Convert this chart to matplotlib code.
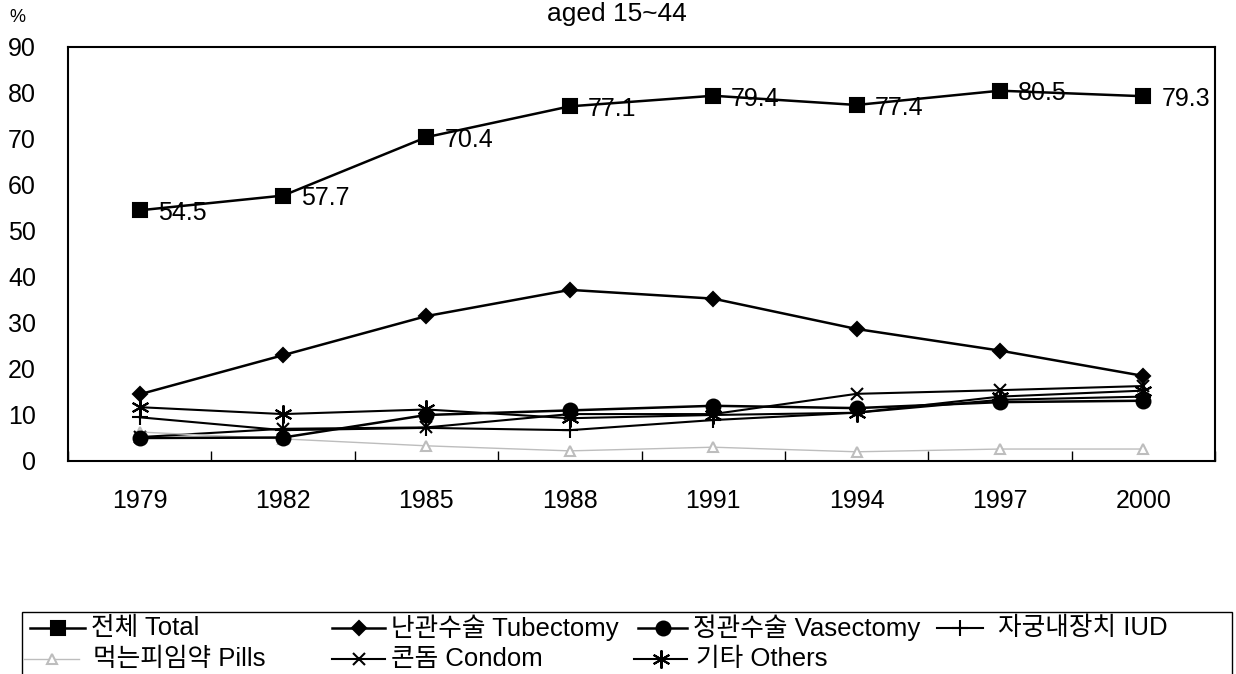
"""Contraceptive use among married women aged 15~44, line chart with bilingual legend."""
import matplotlib
matplotlib.use('Agg')
import matplotlib.pyplot as plt
import numpy as np
from matplotlib.lines import Line2D
from matplotlib.patches import Rectangle

plt.rcParams['font.family'] = ['Liberation Sans', 'Noto Sans CJK KR', 'DejaVu Sans']

W, H = 1236, 674

years = ['1979', '1982', '1985', '1988', '1991', '1994', '1997', '2000']
total = [54.5, 57.7, 70.4, 77.1, 79.4, 77.4, 80.5, 79.3]
tubectomy = [14.5, 23.0, 31.5, 37.2, 35.3, 28.7, 24.0, 18.5]
vasectomy = [5.0, 5.1, 10.0, 11.0, 12.0, 11.5, 12.8, 13.1]
iud = [9.5, 6.7, 7.2, 6.7, 8.9, 10.5, 13.3, 14.0]
pills = [6.3, 4.8, 3.3, 2.2, 3.0, 2.0, 2.6, 2.6]
condom = [5.2, 7.0, 7.3, 10.2, 10.2, 14.6, 15.4, 16.3]
others = [11.7, 10.2, 11.2, 9.3, 10.0, 10.5, 14.0, 15.3]

labels = ['전체 Total', '난관수술 Tubectomy', '정관수술 Vasectomy', '자궁내장치 IUD',
          '먹는피임약 Pills', '콘돔 Condom', '기타 Others']

# style per series: marker, marker size, line colour, line width, marker face
styles = [
    dict(marker='s', ms=10, color='black', lw=1.8, mfc='black'),
    dict(marker='D', ms=7, color='black', lw=1.8, mfc='black'),
    dict(marker='o', ms=10, color='black', lw=1.8, mfc='black'),
    dict(marker='+', ms=12, color='black', lw=1.5, mfc='black'),
    dict(marker='^', ms=7, color='#bdbdbd', lw=1.0, mfc='white'),
    dict(marker='x', ms=9, color='black', lw=1.5, mfc='black'),
    dict(marker=(6, 2, 0), ms=13, color='black', lw=1.5, mfc='black'),
]
values = [total, tubectomy, vasectomy, iud, pills, condom, others]


def px(x, y):
    return x / W, 1 - y / H


def main():
    fig = plt.figure(figsize=(W / 100, H / 100), dpi=100)
    ax = fig.add_axes([68 / W, 1 - 461 / H, (1215 - 68) / W, (461 - 47) / H])

    xs = np.arange(len(years))
    # draw back to front so Total sits on top
    for vals, st in list(zip(values, styles))[::-1]:
        ax.plot(xs, vals, color=st['color'], lw=st['lw'], marker=st['marker'],
                ms=st['ms'], mfc=st['mfc'], mec=st['color'], mew=1.5)

    for x, v in zip(xs, total):
        ax.annotate(f'{v}', (x, v), xytext=(13, -2), textcoords='offset points',
                    ha='left', va='center', fontsize=18)

    ax.set_xlim(-0.5, len(years) - 0.5)
    ax.set_ylim(0, 90)
    ax.set_yticks(np.arange(0, 91, 10))
    ax.set_xticks(xs)
    ax.set_xticklabels(years)
    ax.set_xticks(np.arange(-0.5, len(years)), minor=True)
    ax.tick_params(axis='x', which='major', length=0, pad=20, labelsize=18)
    ax.tick_params(axis='x', which='minor', direction='in', length=7, width=1)
    ax.tick_params(axis='y', length=0, pad=23, labelsize=18)
    for s in ax.spines.values():
        s.set_linewidth(1.5)

    fig.text(*px(617, 14), 'aged 15~44', ha='center', va='center', fontsize=19)
    fig.text(*px(17, 18), '%', ha='center', va='center', fontsize=13)

    # legend box, drawn by hand to keep the Excel row order
    fig.add_artist(Rectangle(px(22, 690), (1232 - 22) / W, (690 - 612) / H,
                             transform=fig.transFigure, fill=False, lw=1.0, ec='black'))
    pos = [(30, 85, 91, 628), (332, 385, 391, 628), (638, 687, 693, 628), (937, 983, 998, 628),
           (24, 79, 93, 659), (332, 385, 391, 659), (634, 687, 696, 659)]
    for (x0, x1, xt, y), lab, st in zip(pos, labels, styles):
        xa, ya = px(x0, y)
        xb, _ = px(x1, y)
        fig.add_artist(Line2D([xa, xb], [ya, ya], transform=fig.transFigure,
                              color=st['color'], lw=st['lw']))
        fig.add_artist(Line2D([(xa + xb) / 2], [ya], transform=fig.transFigure,
                              marker=st['marker'], ms=st['ms'], mfc=st['mfc'],
                              mec=st['color'], mew=1.5, lw=0))
        fig.text(*px(xt, y), lab, ha='left', va='center', fontsize=18.5)

    fig.savefig('out.png', dpi=100)
    plt.close(fig)


if __name__ == '__main__':
    main()
